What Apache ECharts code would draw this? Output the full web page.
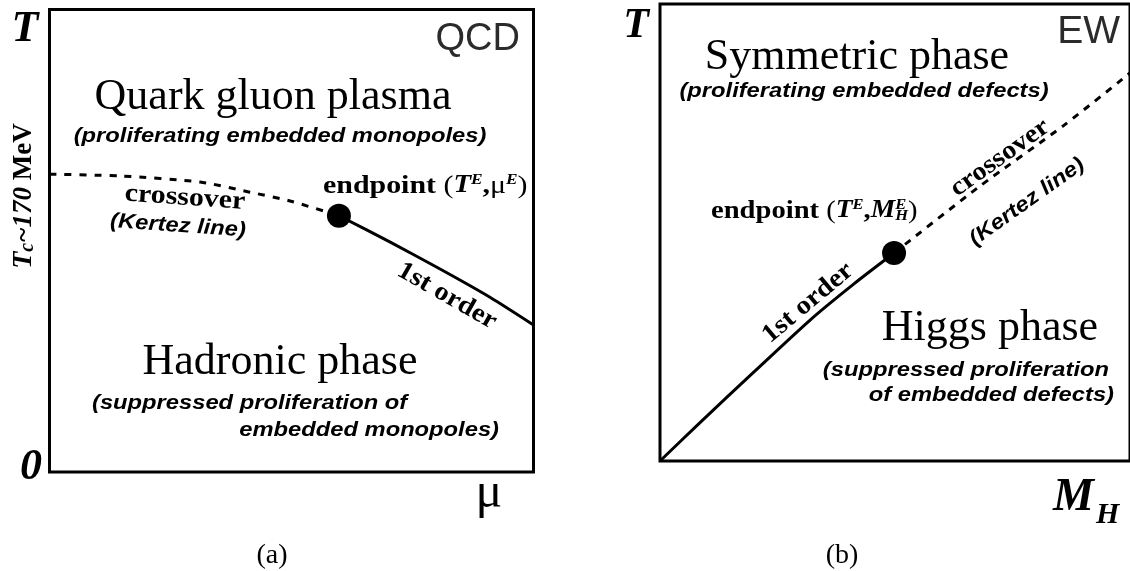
<!DOCTYPE html>
<html>
<head>
<meta charset="utf-8">
<script src="https://cdn.jsdelivr.net/npm/echarts@6/dist/echarts.min.js"></script>
<style>
    html, body { margin: 0; padding: 0; background: #fff; }
    #main { width: 1130px; height: 571px; }
</style>
</head>
<body>
<div id="main"></div>
<script>
    // (a) QCD: mu on x, T on y, both 0..100 (arbitrary units)
    var qcdCrossover = [[0, 64.4], [14.6, 64.0], [31.1, 62.7], [41.4, 60.5], [49.7, 58.6], [59.8, 55.4]]
    var qcdFirstOrder = [[59.8, 55.4], [70.4, 49.7], [80.7, 43.9], [91.0, 37.8], [100, 31.8]]
    var qcdEndpoint = [[59.8, 55.4]]

    // (b) EW: M_H on x, T on y
    var ewFirstOrder = [[0, 0], [8.4, 8.3], [20, 19.5], [32, 30.9], [41.2, 38.7], [49.8, 45.5]]
    var ewCrossover = [[49.8, 45.5], [68, 60.1], [86, 73.5], [100, 84.9]]
    var ewEndpoint = [[49.8, 45.5]]

    var serif = "'Liberation Serif', 'DejaVu Serif', serif"
    var sans = "'Liberation Sans', Arial, sans-serif"

    function txt(x, y, s, o) {
        o = o || {}
        return {
            type: 'text', x: x, y: y, z: 10,
            rotation: o.rot || 0,
            scaleX: o.sx || 1,
            style: {
                text: s,
                fill: o.color || '#000',
                fontFamily: o.family || serif,
                fontSize: o.size || 26,
                fontWeight: o.weight || 'normal',
                fontStyle: o.style || 'normal',
                align: o.align || 'center', textAlign: o.align || 'center',
                verticalAlign: 'middle', textVerticalAlign: 'middle',
                rich: o.rich
            }
        }
    }

    function small(x, y, s, align, rot) {
        return txt(x, y, s, { family: sans, size: 21, weight: 'bold', style: 'italic', sx: 1.13, align: align, rot: rot })
    }

    var r26 = {
        b: { fontFamily: serif, fontSize: 26, fontWeight: 'bold' },
        p: { fontFamily: serif, fontSize: 26 },
        i: { fontFamily: serif, fontSize: 25, fontWeight: 'bold', fontStyle: 'italic' },
        m: { fontFamily: serif, fontSize: 26 },
        s: { fontFamily: serif, fontSize: 15, fontWeight: 'bold', fontStyle: 'italic', verticalAlign: 'top' },
        s0: { fontFamily: serif, fontSize: 15, fontWeight: 'bold', fontStyle: 'italic', verticalAlign: 'top', width: 0 },
        sb: { fontFamily: serif, fontSize: 15, fontWeight: 'bold', fontStyle: 'italic', verticalAlign: 'bottom' }
    }

    var graphics = [
        // ---- panel (a)
        txt(25, 30, 'T', { size: 44, weight: 'bold', style: 'italic' }),
        txt(31, 468, '0', { size: 44, weight: 'bold', style: 'italic' }),
        txt(520, 40, 'QCD', { family: sans, size: 38, align: 'right', color: '#2b2b2b' }),
        txt(273, 97, 'Quark gluon plasma', { size: 44 }),
        small(280, 136, '(proliferating embedded monopoles)'),
        txt(185, 198, 'crossover', { weight: 'bold', sx: 1.15, rot: -0.07 }),
        small(178, 226, '(Kertez line)', 'center', -0.07),
        txt(323, 186, '{b|endpoint} {p|(}{i|T}{s|E}{b|,}{m|μ}{s|E}{p|)}', { align: 'left', sx: 1.15, rich: r26 }),
        txt(447, 296, '1st order', { weight: 'bold', sx: 1.1, rot: -0.52 }),
        txt(280, 362, 'Hadronic phase', { size: 44 }),
        small(92, 403, '(suppressed proliferation of', 'left'),
        small(499, 430, 'embedded monopoles)', 'right'),
        txt(489, 494, 'μ', { size: 50 }),
        txt(272, 556, '(a)', { size: 28 }),
        txt(24, 196, '{t|T}{c|c}{w|~170}{v| MeV}', {
            rot: Math.PI / 2,
            rich: {
                t: { fontFamily: serif, fontSize: 28, fontWeight: 'bold', fontStyle: 'italic' },
                c: { fontFamily: serif, fontSize: 20, fontWeight: 'bold', fontStyle: 'italic', verticalAlign: 'bottom' },
                w: { fontFamily: serif, fontSize: 27, fontWeight: 'bold', fontStyle: 'italic' },
                v: { fontFamily: serif, fontSize: 27, fontWeight: 'bold' }
            }
        }),

        // ---- panel (b)
        txt(636, 26, 'T', { size: 42, weight: 'bold', style: 'italic' }),
        txt(1120, 32, 'EW', { family: sans, size: 39, align: 'right', color: '#2b2b2b' }),
        txt(857, 57, 'Symmetric phase', { size: 44 }),
        small(864, 91, '(proliferating embedded defects)'),
        txt(711, 211, '{b|endpoint} {p|(}{i|T}{s|E}{b|,}{i|M}{s0|E}{sb|H}{p|)}', { align: 'left', sx: 1.1, rich: r26 }),
        txt(808, 303, '1st order', { weight: 'bold', sx: 1.1, rot: 0.70 }),
        txt(1000, 158, 'crossover', { weight: 'bold', sx: 1.1, rot: 0.62 }),
        small(1027, 202, '(Kertez line)', 'center', 0.62),
        txt(990, 328, 'Higgs phase', { size: 44 }),
        small(1109, 370, '(suppressed proliferation', 'right'),
        small(1114, 395, 'of embedded defects)', 'right'),
        txt(1053, 498, 'M', { size: 46, weight: 'bold', style: 'italic', align: 'left' }),
        txt(1096, 515, 'H', { size: 30, weight: 'bold', style: 'italic', align: 'left' }),
        txt(842, 556, '(b)', { size: 28 })
    ]

    var hidden = { show: false }
    function axis(idx) {
        return { type: 'value', gridIndex: idx, min: 0, max: 100, axisLine: hidden, axisTick: hidden, axisLabel: hidden, splitLine: hidden }
    }

    function curve(idx, data, dash) {
        return {
            type: 'line', xAxisIndex: idx, yAxisIndex: idx, data: data, smooth: 0.25,
            showSymbol: false, lineStyle: { color: '#000', width: 3, type: dash || 'solid' }
        }
    }
    function dot(idx, data) {
        return {
            type: 'scatter', xAxisIndex: idx, yAxisIndex: idx, data: data, symbolSize: 24,
            itemStyle: { color: '#000', opacity: 1 }, z: 5
        }
    }

    var chart = echarts.init(document.getElementById('main'))
    var option = {
        backgroundColor: '#fff',
        animation: false,
        grid: [
            { left: 49.5, top: 9.5, width: 484, height: 462.5, show: true, borderColor: '#000', borderWidth: 3 },
            { left: 660, top: 4, width: 500, height: 457, show: true, borderColor: '#000', borderWidth: 3 }
        ],
        xAxis: [axis(0), axis(1)],
        yAxis: [axis(0), axis(1)],
        series: [
            curve(0, qcdCrossover, [7, 8]),
            curve(0, qcdFirstOrder),
            dot(0, qcdEndpoint),
            curve(1, ewFirstOrder),
            curve(1, ewCrossover, [7, 7]),
            dot(1, ewEndpoint)
        ],
        graphic: graphics
    }
    chart.setOption(option)
</script>
</body>
</html>
